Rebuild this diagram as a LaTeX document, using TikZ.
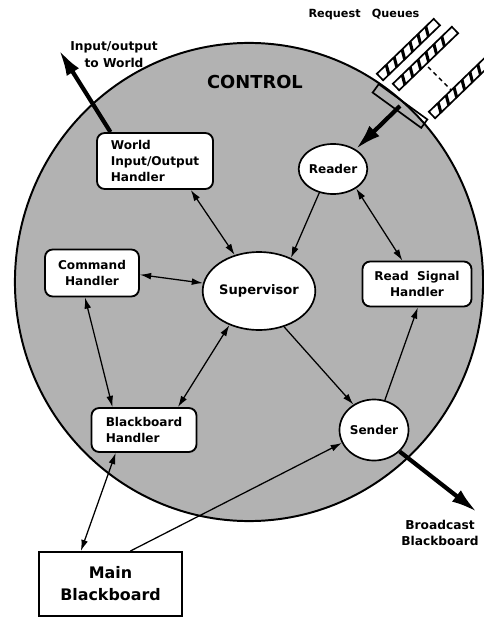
\documentclass[tikz,border=0pt]{standalone}
\usepackage{fontspec}
\setmainfont{DejaVu Sans}
\usetikzlibrary{arrows.meta,positioning,shapes.geometric}
\definecolor{ctrlGray}{HTML}{B2B2B2}

\begin{document}
\begin{tikzpicture}[
  x=0.025cm, y=0.025cm,
  font=\bfseries\fontsize{8.6}{11.4}\selectfont,
  handler/.style={rectangle, rounded corners=5.5pt, draw, line width=1.3pt, fill=white, inner sep=2pt},
  proc/.style={ellipse, draw, line width=1.2pt, fill=white, inner sep=0pt},
  link/.style={-{Latex[length=2.8mm,width=1.7mm]}, line width=0.9pt},
  dlink/.style={{Latex[length=2.8mm,width=1.7mm]}-{Latex[length=2.8mm,width=1.7mm]}, line width=0.9pt},
  bigarrow/.style={-{Latex[length=6.5mm,width=3.6mm]}, line width=3pt},
  qbar/.style={draw, line width=1.2pt, fill=white},
  hatch/.style={line width=2.2pt}
]
\useasboundingbox (0,-617) rectangle (484,0);
% control region
\filldraw[fill=ctrlGray, line width=1.4pt] (249,-282) ellipse [x radius=5.85cm, y radius=5.975cm];
\node (ctrl) at (255,-82) {\fontsize{12.7}{14}\selectfont CONTROL};

% request queues
\node[draw, line width=1.2pt, rotate=-36, minimum width=1.5cm, minimum height=0.26cm, inner sep=0pt] (qbox) at (400,-106) {};
\foreach \bx/\by/\blen in {380/77/79, 396/87/82, 432/115/100} {
  \begin{scope}[shift={(\bx,-\by)}, rotate=44]
    \draw[qbar] (0,-4.5) rectangle (\blen,4.5);
    \pgfmathsetmacro{\blast}{\blen-10}
    \foreach \hx in {8,19,...,\blast}
      \draw[hatch] (\hx,-4.5) -- (\hx+5,4.5);
  \end{scope}
}
\draw[line width=1pt, dash pattern=on 3pt off 2.5pt] (428,-67) -- (451,-90);
\node[font=\bfseries\fontsize{8}{10}\selectfont] (reqlabel) at (364,-14) {Request\quad Queues};

% processes and handlers
\node[handler, minimum width=2.9cm, minimum height=1.4cm, align=left] (wio) at (155,-161) {World\\Input/Output\\Handler};
\node[proc, minimum width=1.575cm, minimum height=1.25cm] (reader) at (333,-169) {Reader};
\node[handler, minimum width=2.35cm, minimum height=1.175cm, align=center] (cmd) at (92,-273) {Command\\Handler};
\node[proc, minimum width=2.375cm, minimum height=1.95cm, font=\bfseries\fontsize{9.3}{11}\selectfont] (sup) at (259,-291) {Supervisor};
\node[handler, minimum width=2.725cm, minimum height=1.125cm, align=center] (rsh) at (417,-284) {Read\ \ Signal\\Handler};
\node[handler, minimum width=2.625cm, minimum height=1.1cm, align=left] (bbh) at (144,-430) {Blackboard\\Handler};
\node[proc, minimum width=1.725cm, minimum height=1.525cm] (sender) at (374,-430) {Sender};
\node[rectangle, draw, line width=1.3pt, fill=white, minimum width=3.575cm, minimum height=1.6cm, align=center, font=\bfseries\fontsize{11.3}{15.6}\selectfont] (mainbb) at (110.5,-584) {Main\\Blackboard};

% outside world
\node[align=center, font=\bfseries\fontsize{8.7}{12}\selectfont] (iolabel) at (114,-55) {Input/output\\to World};
\node[align=center, font=\bfseries\fontsize{8.7}{11.4}\selectfont] (bclabel) at (440,-533) {Broadcast\\Blackboard};
\coordinate (world) at (59,-50);
\coordinate (bcast) at (477,-512);

% connectors
\draw[dlink] (wio.-39) -- (sup.124);
\draw[link] (reader.240) -- (sup.46);
\draw[dlink] (reader.-40) -- (rsh.122);
\draw[dlink] (cmd.-2) -- (sup.172);
\draw[dlink] (cmd.254) -- (bbh.144);
\draw[dlink] (sup.229) -- (bbh.34);
\draw[link] (sup.-55) -- (sender.129);
\draw[link] (sender.70) -- (rsh.-88);
\draw[dlink] (bbh.219) -- (mainbb.132);
\draw[link] (mainbb.59) -- (sender.202);
\draw[bigarrow] (wio.147) -- (world);
\draw[bigarrow] (qbox.center) -- (reader.41);
\draw[bigarrow] (sender.-40) -- (bcast);
\end{tikzpicture}
\end{document}
